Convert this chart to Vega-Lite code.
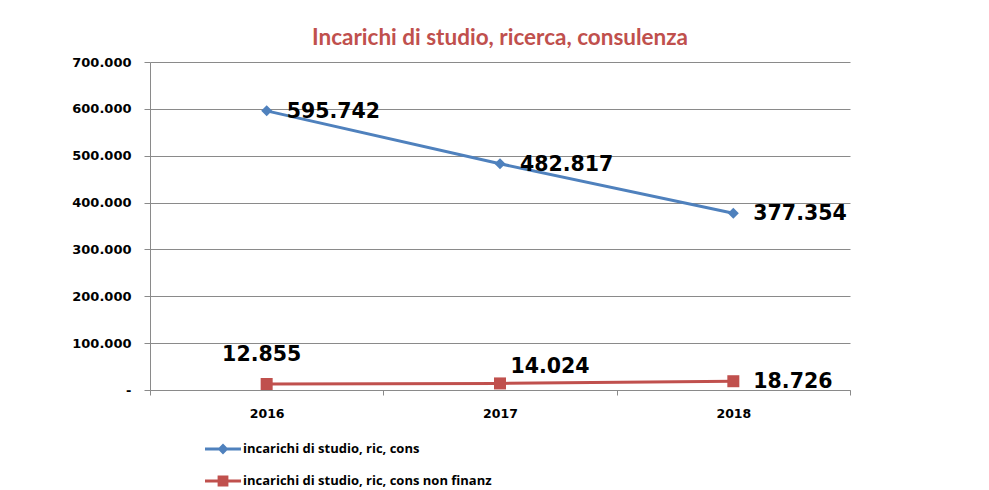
{
  "$schema": "https://vega.github.io/schema/vega-lite/v6.json",
  "width": 700,
  "height": 328,
  "autosize": {"type": "none"},
  "padding": {"left": 150, "top": 62, "right": 139, "bottom": 100},
  "background": "white",
  "config": {
    "locale": {"number": {"decimal": ",", "thousands": ".", "grouping": [3], "currency": ["€", ""]}},
    "view": {"stroke": null}
  },
  "title": {
    "text": "Incarichi di studio, ricerca, consulenza",
    "color": "#C0504D",
    "font": "Lato",
    "fontSize": 22.5,
    "fontWeight": "bold",
    "anchor": "middle",
    "offset": 7
  },
  "data": {
    "values": [
      {"year": "2016", "series": "incarichi di studio, ric, cons", "value": 595742},
      {"year": "2017", "series": "incarichi di studio, ric, cons", "value": 482817},
      {"year": "2018", "series": "incarichi di studio, ric, cons", "value": 377354},
      {"year": "2016", "series": "incarichi di studio, ric, cons non finanz", "value": 12855},
      {"year": "2017", "series": "incarichi di studio, ric, cons non finanz", "value": 14024},
      {"year": "2018", "series": "incarichi di studio, ric, cons non finanz", "value": 18726}
    ]
  },
  "encoding": {
    "x": {
      "field": "year", "type": "ordinal",
      "scale": {"paddingInner": 0, "paddingOuter": 0},
      "axis": {
        "title": null, "labelAngle": 0, "tickBand": "extent",
        "labelFont": "DejaVu Sans", "labelFontSize": 12.5, "labelFontWeight": "bold", "labelColor": "black",
        "domainColor": "#8a8a8a", "tickColor": "#8a8a8a", "tickSize": 5, "labelPadding": 12,
        "labelBound": false, "labelOverlap": false
      }
    },
    "y": {
      "field": "value", "type": "quantitative",
      "scale": {"domain": [0, 700000], "nice": false},
      "axis": {
        "title": null, "values": [0, 100000, 200000, 300000, 400000, 500000, 600000, 700000],
        "format": ",.0f",
        "labelExpr": "datum.value === 0 ? '-' : datum.label",
        "labelFont": "DejaVu Sans", "labelFontSize": 13, "labelFontWeight": "bold", "labelColor": "black",
        "domainColor": "#8a8a8a", "tickColor": "#8a8a8a", "gridColor": "#8a8a8a", "grid": true,
        "tickSize": 6, "labelPadding": 13
      }
    }
  },
  "layer": [
    {
      "mark": {"type": "line", "strokeWidth": 3},
      "encoding": {
        "color": {"field": "series", "type": "nominal",
          "scale": {"domain": ["incarichi di studio, ric, cons", "incarichi di studio, ric, cons non finanz"], "range": ["#4F81BD", "#C0504D"]},
          "legend": null}
      }
    },
    {
      "mark": {"type": "point", "filled": true, "opacity": 1},
      "encoding": {
        "color": {"field": "series", "type": "nominal",
          "scale": {"domain": ["incarichi di studio, ric, cons", "incarichi di studio, ric, cons non finanz"], "range": ["#4F81BD", "#C0504D"]},
          "legend": null},
        "shape": {"field": "series", "type": "nominal",
          "scale": {"domain": ["incarichi di studio, ric, cons", "incarichi di studio, ric, cons non finanz"], "range": ["diamond", "square"]},
          "legend": null},
        "size": {"field": "series", "type": "nominal",
          "scale": {"domain": ["incarichi di studio, ric, cons", "incarichi di studio, ric, cons non finanz"], "range": [121, 144]},
          "legend": null}
      }
    },
    {
      "mark": {"type": "point", "filled": true, "opacity": 0},
      "encoding": {
        "color": {"field": "series", "type": "nominal",
          "scale": {"domain": ["incarichi di studio, ric, cons", "incarichi di studio, ric, cons non finanz"], "range": ["#4F81BD", "#C0504D"]},
          "legend": {
            "title": null, "orient": "none", "legendX": 55, "legendY": 369,
            "symbolSize": 1296, "symbolOpacity": 1, "symbolStrokeWidth": 0,
            "labelFont": "Open Sans", "labelFontSize": 13, "labelFontWeight": "bold", "labelColor": "black",
            "labelOffset": 2, "rowPadding": 7, "padding": 0, "labelLimit": 400
          }},
        "shape": {"field": "series", "type": "nominal",
          "scale": {"domain": ["incarichi di studio, ric, cons", "incarichi di studio, ric, cons non finanz"],
            "range": ["M-1,-0.085L1,-0.085L1,0.085L-1,0.085Z M0,-0.3L0.3,0L0,0.3L-0.3,0Z", "M-1,-0.085L1,-0.085L1,0.085L-1,0.085Z M-0.3,-0.3L0.3,-0.3L0.3,0.3L-0.3,0.3Z"]},
          "legend": {
            "title": null, "orient": "none", "legendX": 55, "legendY": 369,
            "symbolSize": 1296, "symbolOpacity": 1, "symbolStrokeWidth": 0,
            "labelFont": "Open Sans", "labelFontSize": 13, "labelFontWeight": "bold", "labelColor": "black",
            "labelOffset": 2, "rowPadding": 7, "padding": 0, "labelLimit": 400
          }}
      }
    },
    {
      "transform": [{"filter": "datum.series === 'incarichi di studio, ric, cons' || datum.year === '2018'"}],
      "mark": {"type": "text", "align": "left", "baseline": "middle", "dx": 20, "dy": 1,
        "font": "DejaVu Sans", "fontSize": 20.5, "fontWeight": "bold", "color": "black"},
      "encoding": {"text": {"field": "value", "type": "quantitative", "format": ",.0f"}}
    },
    {
      "transform": [{"filter": "datum.series === 'incarichi di studio, ric, cons non finanz' && datum.year === '2016'"}],
      "mark": {"type": "text", "align": "center", "baseline": "middle", "dx": -5, "dy": -29,
        "font": "DejaVu Sans", "fontSize": 20.5, "fontWeight": "bold", "color": "black"},
      "encoding": {"text": {"field": "value", "type": "quantitative", "format": ",.0f"}}
    },
    {
      "transform": [{"filter": "datum.series === 'incarichi di studio, ric, cons non finanz' && datum.year === '2017'"}],
      "mark": {"type": "text", "align": "center", "baseline": "middle", "dx": 50, "dy": -16,
        "font": "DejaVu Sans", "fontSize": 20.5, "fontWeight": "bold", "color": "black"},
      "encoding": {"text": {"field": "value", "type": "quantitative", "format": ",.0f"}}
    }
  ],
  "resolve": {
    "scale": {"color": "independent", "shape": "independent", "size": "independent"},
    "legend": {"color": "independent", "shape": "independent", "size": "independent"}
  }
}
